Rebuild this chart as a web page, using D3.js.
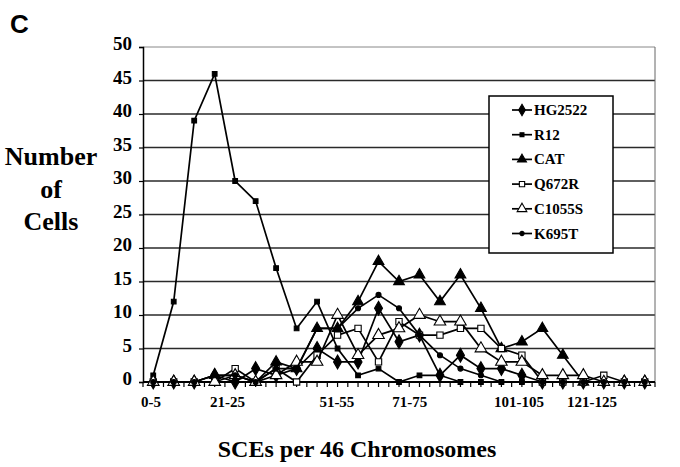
<!DOCTYPE html>
<html>
<head>
<meta charset="utf-8">
<script src="https://cdn.jsdelivr.net/npm/d3@7"></script>
<style>
body { margin: 0; background: #fff; }
text { font-family: "Liberation Serif", "Times New Roman", serif; font-weight: bold; fill: #000; }
</style>
</head>
<body>
<svg id="chart" width="680" height="467"></svg>
<script>
// SCE bins (x categories)
var categories = ["0-5", "6-10", "11-15", "16-20", "21-25", "26-30", "31-35", "36-40",
  "41-45", "46-50", "51-55", "56-60", "61-65", "66-70", "71-75", "76-80", "81-85",
  "86-90", "91-95", "96-100", "101-105", "106-110", "111-115", "116-120", "121-125"];

// the few labels printed under the axis, with the bin start they stand for
var xLabels = ["0-5", "21-25", "51-55", "71-75", "101-105", "121-125"];
var xLabelStarts = [0, 21, 51, 71, 101, 121];

var yTicks = [0, 5, 10, 15, 20, 25, 30, 35, 40, 45, 50];

// number of cells per bin
var hg2522 = [0, 0, 0, 1, 0, 2, 1, 2, 5, 3, 3, 11, 6, 7, 1, 4, 2, 2, 1, 0, 0, 0, 0, 0, 0];
var r12    = [1, 12, 39, 46, 30, 27, 17, 8, 12, 5, 1, 2, 0, 1, 1, 0, 0, 0, 0, 0, 0, 0, 0, 0, 0];
var cat    = [0, 0, 0, 1, 1, 0, 3, 2, 8, 8, 12, 18, 15, 16, 12, 16, 11, 5, 6, 8, 4, 0, 0, 0, 0];
var q672r  = [0, 0, 0, 0, 2, 0, 2, 0, 4, 7, 8, 3, 9, 7, 7, 8, 8, 5, 4, 0, 0, 0, 1, 0, 0];
var c1055s = [0, 0, 0, 0, 1, 0, 1, 3, 3, 10, 4, 7, 8, 10, 9, 9, 5, 3, 3, 1, 1, 1, 0, 0, 0];
var k695t  = [0, 0, 0, 1, 1, 0, 2, 2, 8, 8, 11, 13, 11, 7, 4, 2, 1, 0, 0, 0, 0, 0, 0, 0, 0];

var seriesNames = ["HG2522", "R12", "CAT", "Q672R", "C1055S", "K695T"];
var seriesValues = [hg2522, r12, cat, q672r, c1055s, k695t];

// marker look per series
var markers = [
  { type: d3.symbolDiamond, size: 55, fill: "#000" },
  { type: d3.symbolSquare, size: 22, fill: "#000" },
  { type: d3.symbolTriangle, size: 50, fill: "#000" },
  { type: d3.symbolSquare, size: 40, fill: "#fff" },
  { type: d3.symbolTriangle, size: 58, fill: "#fff" },
  { type: d3.symbolCircle, size: 20, fill: "#000" }
];

var svg = d3.select("#chart");
var plotLeft = 143, plotRight = 655, plotTop = 47, plotBottom = 382;

var x = d3.scalePoint().domain(categories).range([plotLeft, plotRight]).padding(0.5);
var y = d3.scaleLinear().domain([0, 50]).range([plotBottom, plotTop]);
var step = x.step();

// gridlines
svg.append("g").selectAll("line")
  .data(yTicks.filter(function(d) { return d > 0; }))
  .join("line")
  .attr("x1", plotLeft).attr("x2", plotRight)
  .attr("y1", function(d) { return y(d); })
  .attr("y2", function(d) { return y(d); })
  .attr("stroke", function(d) { return d === 50 ? "#888" : "#2a2a2a"; })
  .attr("stroke-width", function(d) { return d === 50 ? 1 : 1.6; });

// right edge of plot area
svg.append("line")
  .attr("x1", plotRight).attr("x2", plotRight).attr("y1", plotTop).attr("y2", plotBottom)
  .attr("stroke", "#666").attr("stroke-width", 1);

// y axis
svg.append("g")
  .attr("transform", "translate(" + plotLeft + ",0)")
  .call(d3.axisLeft(y).tickValues(yTicks).tickSize(4).tickPadding(7))
  .call(function(g) {
    g.select(".domain").attr("stroke-width", 1.5);
    g.selectAll(".tick line").attr("stroke-width", 1.2);
    g.selectAll("text").attr("dy", "0.14em").style("font-size", "19px");
  });

// x axis line and ticks (at bin centres and bin edges)
var tickXs = [];
categories.forEach(function(c) { tickXs.push(x(c) - step / 2, x(c)); });
tickXs.push(x(categories[categories.length - 1]) + step / 2);

svg.append("line")
  .attr("x1", plotLeft).attr("x2", plotRight).attr("y1", plotBottom).attr("y2", plotBottom)
  .attr("stroke", "#000").attr("stroke-width", 2);
svg.append("g").selectAll("line").data(tickXs).join("line")
  .attr("x1", function(d) { return d; }).attr("x2", function(d) { return d; })
  .attr("y1", plotBottom).attr("y2", plotBottom + 5)
  .attr("stroke", "#000").attr("stroke-width", 1.2);

// printed labels sit a little off the bins in the original; place them on their own scale
var xl = d3.scaleLinear().domain([0, 121]).range([151, 592]);
svg.append("g").selectAll("text").data(xLabels).join("text")
  .attr("x", function(d, i) { return xl(xLabelStarts[i]); })
  .attr("y", 407)
  .attr("text-anchor", "middle")
  .style("font-size", "15px")
  .text(function(d) { return d; });

// series lines + markers
var line = d3.line()
  .x(function(d, i) { return x(categories[i]); })
  .y(function(d) { return y(d); });

seriesValues.forEach(function(vals, s) {
  var g = svg.append("g");
  g.append("path")
    .attr("d", line(vals))
    .attr("fill", "none")
    .attr("stroke", "#000")
    .attr("stroke-width", 1.7);
  g.selectAll("path.m").data(vals).join("path")
    .attr("class", "m")
    .attr("transform", function(d, i) { return "translate(" + x(categories[i]) + "," + y(d) + ")"; })
    .attr("d", d3.symbol().type(markers[s].type).size(markers[s].size))
    .attr("fill", markers[s].fill)
    .attr("stroke", "#000")
    .attr("stroke-width", 1.1);
});

// legend
var legend = svg.append("g");
legend.append("rect")
  .attr("x", 489).attr("y", 96).attr("width", 124).attr("height", 157)
  .attr("fill", "#fff").attr("stroke", "#000").attr("stroke-width", 1.5);
seriesNames.forEach(function(name, s) {
  var ly = 110 + s * 24.7;
  legend.append("line")
    .attr("x1", 512).attr("x2", 532).attr("y1", ly).attr("y2", ly)
    .attr("stroke", "#000").attr("stroke-width", 1.7);
  legend.append("path")
    .attr("transform", "translate(522," + ly + ")")
    .attr("d", d3.symbol().type(markers[s].type).size(markers[s].size * 0.7))
    .attr("fill", markers[s].fill)
    .attr("stroke", "#000").attr("stroke-width", 1.1);
  legend.append("text")
    .attr("x", 534).attr("y", ly + 5)
    .style("font-size", "15px")
    .text(name);
});

// panel letter
svg.append("text")
  .attr("x", 10).attr("y", 33)
  .style("font-family", "'Liberation Sans', Arial, sans-serif")
  .style("font-size", "26px")
  .text("C");

// y title
["Number", "of", "Cells"].forEach(function(t, i) {
  svg.append("text")
    .attr("x", 51).attr("y", 165 + i * 32.5)
    .attr("text-anchor", "middle")
    .style("font-size", "26px")
    .text(t);
});

// x title
svg.append("text")
  .attr("x", 357).attr("y", 457)
  .attr("text-anchor", "middle")
  .style("font-size", "24px")
  .text("SCEs per 46 Chromosomes");
</script>
</body>
</html>
